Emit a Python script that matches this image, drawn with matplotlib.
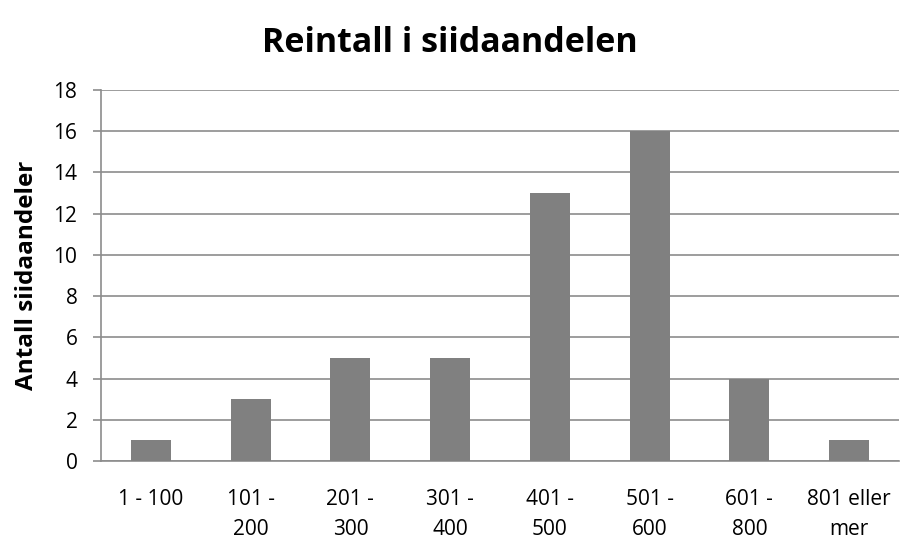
import matplotlib
matplotlib.use('Agg')
import matplotlib.pyplot as plt

plt.rcParams['font.family'] = ['Open Sans', 'DejaVu Sans']

# data
categories = ['1 - 100', '101 -\n200', '201 -\n300', '301 -\n400',
              '401 -\n500', '501 -\n600', '601 -\n800', '801 eller\nmer']
counts = [1, 3, 5, 5, 13, 16, 4, 1]
y_ticks = [0, 2, 4, 6, 8, 10, 12, 14, 16, 18]

fig = plt.figure(figsize=(9, 5.38), dpi=100)
ax = fig.add_axes([101 / 900, 1 - 461 / 538, 798 / 900, 371 / 538])

x = range(len(categories))
ax.bar(x, counts, width=0.4, color='#808080', zorder=3)

ax.set_xlim(-0.5, len(categories) - 0.5)
ax.set_ylim(0, 18)
ax.set_yticks(y_ticks)
ax.set_xticks(list(x))
ax.set_xticklabels(categories, fontsize=15, linespacing=1.55)
ax.tick_params(axis='y', labelsize=15, length=6, color='#8c8c8c', width=1.2, pad=11)
ax.tick_params(axis='x', length=0, pad=20)

ax.grid(axis='y', color='#8c8c8c', linewidth=1.2, zorder=0)
for side in ['top', 'right']:
    ax.spines[side].set_visible(False)
ax.spines['left'].set_color('#8c8c8c')
ax.spines['left'].set_linewidth(1.2)
ax.spines['bottom'].set_color('#8c8c8c')
ax.spines['bottom'].set_linewidth(1.2)

ax.set_ylabel('Antall siidaandeler', fontsize=17.5, fontweight='bold', labelpad=10)
fig.text(0.5, 1 - 52 / 538, 'Reintall i siidaandelen', ha='center', va='baseline',
         fontsize=24.5, fontweight='bold')

fig.savefig('out.png', dpi=100)
